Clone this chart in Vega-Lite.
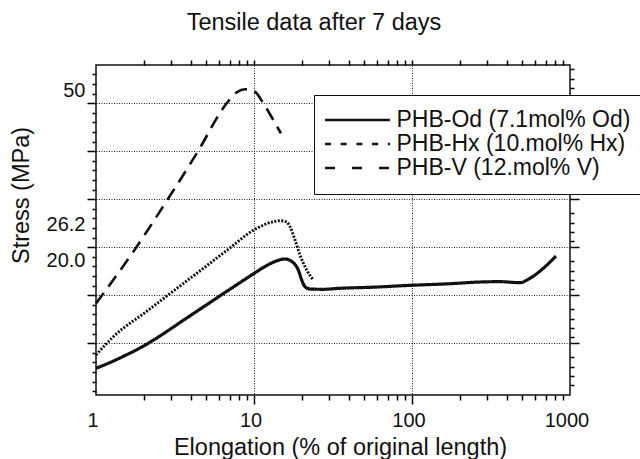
{
  "$schema": "https://vega.github.io/schema/vega-lite/v6.json",
  "width": 474,
  "height": 330,
  "autosize": {"type": "none"},
  "padding": {"left": 96, "top": 65, "right": 70, "bottom": 64},
  "background": "white",
  "title": {"text": "Tensile data after 7 days", "font": "Liberation Sans", "fontSize": 23.5, "fontWeight": "normal", "color": "#111", "anchor": "middle", "dx": -19, "offset": 25},
  "data": {"values": [
    {"series": "PHB-Od (7.1mol% Od)", "elongation": 1, "stress": 0.57},
    {"series": "PHB-Od (7.1mol% Od)", "elongation": 1.226, "stress": 1.59},
    {"series": "PHB-Od (7.1mol% Od)", "elongation": 1.504, "stress": 2.74},
    {"series": "PHB-Od (7.1mol% Od)", "elongation": 1.845, "stress": 3.98},
    {"series": "PHB-Od (7.1mol% Od)", "elongation": 2.262, "stress": 5.4},
    {"series": "PHB-Od (7.1mol% Od)", "elongation": 2.773, "stress": 6.99},
    {"series": "PHB-Od (7.1mol% Od)", "elongation": 3.401, "stress": 8.67},
    {"series": "PHB-Od (7.1mol% Od)", "elongation": 4.232, "stress": 10.44},
    {"series": "PHB-Od (7.1mol% Od)", "elongation": 5.267, "stress": 12.21},
    {"series": "PHB-Od (7.1mol% Od)", "elongation": 6.553, "stress": 13.98},
    {"series": "PHB-Od (7.1mol% Od)", "elongation": 8.155, "stress": 15.73},
    {"series": "PHB-Od (7.1mol% Od)", "elongation": 10.15, "stress": 17.47},
    {"series": "PHB-Od (7.1mol% Od)", "elongation": 11.74, "stress": 18.58},
    {"series": "PHB-Od (7.1mol% Od)", "elongation": 13.58, "stress": 19.47},
    {"series": "PHB-Od (7.1mol% Od)", "elongation": 15.71, "stress": 19.91},
    {"series": "PHB-Od (7.1mol% Od)", "elongation": 17.73, "stress": 19.26},
    {"series": "PHB-Od (7.1mol% Od)", "elongation": 19.07, "stress": 17.96},
    {"series": "PHB-Od (7.1mol% Od)", "elongation": 20.04, "stress": 16.2},
    {"series": "PHB-Od (7.1mol% Od)", "elongation": 21.03, "stress": 15.01},
    {"series": "PHB-Od (7.1mol% Od)", "elongation": 22.6, "stress": 14.6},
    {"series": "PHB-Od (7.1mol% Od)", "elongation": 27.45, "stress": 14.55},
    {"series": "PHB-Od (7.1mol% Od)", "elongation": 35, "stress": 14.73},
    {"series": "PHB-Od (7.1mol% Od)", "elongation": 54.2, "stress": 14.9},
    {"series": "PHB-Od (7.1mol% Od)", "elongation": 99.5, "stress": 15.26},
    {"series": "PHB-Od (7.1mol% Od)", "elongation": 174, "stress": 15.54},
    {"series": "PHB-Od (7.1mol% Od)", "elongation": 269, "stress": 15.84},
    {"series": "PHB-Od (7.1mol% Od)", "elongation": 360, "stress": 15.9},
    {"series": "PHB-Od (7.1mol% Od)", "elongation": 482.6, "stress": 15.72},
    {"series": "PHB-Od (7.1mol% Od)", "elongation": 558.5, "stress": 16.5},
    {"series": "PHB-Od (7.1mol% Od)", "elongation": 677.7, "stress": 18.27},
    {"series": "PHB-Od (7.1mol% Od)", "elongation": 815, "stress": 20.44},
    {"series": "PHB-Hx (10.mol% Hx)", "elongation": 1, "stress": 2.92},
    {"series": "PHB-Hx (10.mol% Hx)", "elongation": 1.287, "stress": 6.16},
    {"series": "PHB-Hx (10.mol% Hx)", "elongation": 2.094, "stress": 10.65},
    {"series": "PHB-Hx (10.mol% Hx)", "elongation": 3.014, "stress": 14.02},
    {"series": "PHB-Hx (10.mol% Hx)", "elongation": 4.34, "stress": 17.38},
    {"series": "PHB-Hx (10.mol% Hx)", "elongation": 6.72, "stress": 21.42},
    {"series": "PHB-Hx (10.mol% Hx)", "elongation": 10.15, "stress": 25.17},
    {"series": "PHB-Hx (10.mol% Hx)", "elongation": 13.25, "stress": 26.51},
    {"series": "PHB-Hx (10.mol% Hx)", "elongation": 14.61, "stress": 26.69},
    {"series": "PHB-Hx (10.mol% Hx)", "elongation": 16.1, "stress": 26.46},
    {"series": "PHB-Hx (10.mol% Hx)", "elongation": 16.9, "stress": 25.63},
    {"series": "PHB-Hx (10.mol% Hx)", "elongation": 18.18, "stress": 23.27},
    {"series": "PHB-Hx (10.mol% Hx)", "elongation": 19.55, "stress": 20.62},
    {"series": "PHB-Hx (10.mol% Hx)", "elongation": 21.56, "stress": 17.96},
    {"series": "PHB-Hx (10.mol% Hx)", "elongation": 23.73, "stress": 16.2},
    {"series": "PHB-V (12.mol% V)", "elongation": 1, "stress": 12.04},
    {"series": "PHB-V (12.mol% V)", "elongation": 1.722, "stress": 21.2},
    {"series": "PHB-V (12.mol% V)", "elongation": 2.87, "stress": 30.65},
    {"series": "PHB-V (12.mol% V)", "elongation": 4.34, "stress": 38.6},
    {"series": "PHB-V (12.mol% V)", "elongation": 6.72, "stress": 47.47},
    {"series": "PHB-V (12.mol% V)", "elongation": 7.78, "stress": 49.4},
    {"series": "PHB-V (12.mol% V)", "elongation": 8.77, "stress": 49.95},
    {"series": "PHB-V (12.mol% V)", "elongation": 9.9, "stress": 49.7},
    {"series": "PHB-V (12.mol% V)", "elongation": 10.4, "stress": 49.24},
    {"series": "PHB-V (12.mol% V)", "elongation": 11.45, "stress": 47.47},
    {"series": "PHB-V (12.mol% V)", "elongation": 14.8, "stress": 42.16}
  ]},
  "resolve": {"axis": {"x": "independent", "y": "independent"}, "scale": {"strokeDash": "independent"}, "legend": {"strokeDash": "independent"}},
  "layer": [
    {
      "mark": {"type": "point", "opacity": 0},
      "encoding": {
        "x": {"field": "elongation", "type": "quantitative",
          "axis": {"orient": "bottom", "values": [10, 100], "ticks": false, "labels": false, "grid": true, "title": null}},
        "y": {"field": "stress", "type": "quantitative",
          "axis": {"orient": "left", "values": [47.5, 39, 30.5, 22, 13.5, 5], "ticks": false, "labels": false, "grid": true, "title": null}}
      }
    },
    {
      "mark": {"type": "line", "color": "#111", "interpolate": "monotone", "strokeCap": "butt"},
      "encoding": {
        "x": {"field": "elongation", "type": "quantitative",
          "scale": {"type": "log", "domain": [1, 1000], "nice": false},
          "axis": {"orient": "bottom", "values": [1, 10, 100, 1000], "format": "d", "ticks": false, "grid": false, "labelPadding": 15, "labelFlush": false, "labelOverlap": false, "labelOffset": -3.5,
            "title": "Elongation (% of original length)", "titleX": 244, "titleY": 59, "titleBaseline": "alphabetic"}},
        "y": {"field": "stress", "type": "quantitative",
          "scale": {"domain": [-4.16, 54.25], "nice": false, "zero": false},
          "axis": {"orient": "left", "values": [50, 26.2, 20], "ticks": false, "grid": false, "labelPadding": 11, "labelOverlap": false, "labelOffset": 1.5,
            "labelExpr": "datum.value == 20 ? '20.0' : datum.value == 50 ? '50' : '26.2'",
            "title": "Stress (MPa)", "titleX": -75, "titleY": 130, "titleAngle": -90, "titleBaseline": "middle", "titleAlign": "center"}},
        "strokeDash": {"field": "series", "type": "nominal",
          "scale": {"domain": ["PHB-Od (7.1mol% Od)", "PHB-Hx (10.mol% Hx)", "PHB-V (12.mol% V)"], "range": [[1, 0], [2, 1.5], [13, 8]]},
          "legend": null},
        "strokeWidth": {"field": "series", "type": "nominal",
          "scale": {"domain": ["PHB-Od (7.1mol% Od)", "PHB-Hx (10.mol% Hx)", "PHB-V (12.mol% V)"], "range": [3.2, 2.6, 3.4]},
          "legend": null}
      }
    },
    {
      "transform": [{"filter": "datum.series == 'legend only'"}],
      "mark": {"type": "line", "color": "#111"},
      "encoding": {
        "x": {"field": "elongation", "type": "quantitative", "axis": null},
        "y": {"field": "stress", "type": "quantitative", "axis": null},
        "strokeDash": {"field": "series", "type": "nominal",
          "scale": {"domain": ["PHB-Od (7.1mol% Od)", "PHB-Hx (10.mol% Hx)", "PHB-V (12.mol% V)"], "range": [[1, 0], [6, 9.7], [10, 17]]},
          "legend": {"orient": "none", "legendX": 218, "legendY": 30, "title": null,
            "symbolType": "M-7,0H25.5", "symbolSize": 16, "symbolStrokeWidth": 2.5, "symbolStrokeColor": "#111",
            "labelFont": "Liberation Sans", "labelFontSize": 23, "labelColor": "#111", "labelOffset": 46, "labelLimit": 400,
            "padding": 13.5, "rowPadding": -4.7, "strokeColor": "#111", "fillColor": "white"}}
      }
    },
    {
      "mark": {"type": "point", "opacity": 0},
      "encoding": {
        "x": {"field": "elongation", "type": "quantitative",
          "axis": {"orient": "bottom", "values": [2,3,4,5,6,7,8,9,20,30,40,50,60,70,80,90,200,300,400,500,600,700,800,900],
            "ticks": true, "tickSize": 5, "tickColor": "black", "tickWidth": 1.5, "labels": false, "grid": false, "title": null}},
        "y": {"field": "stress", "type": "quantitative",
          "axis": {"orient": "left", "values": [52.6,50.9,49.2,45.8,44.1,42.4,40.7,37.3,35.6,33.9,32.2,28.8,27.1,25.4,23.7,20.3,18.6,16.9,15.2,11.8,10.1,8.4,6.7,3.3,1.6,-0.1,-1.8,-3.5],
            "ticks": true, "tickSize": 4, "tickColor": "black", "tickWidth": 1.5, "labels": false, "grid": false, "title": null}}
      }
    },
    {
      "mark": {"type": "point", "opacity": 0},
      "encoding": {
        "x": {"field": "elongation", "type": "quantitative",
          "axis": {"orient": "top", "values": [2,3,4,5,6,7,8,9,10,20,30,40,50,60,70,80,90,100,200,300,400,500,600,700,800,900],
            "ticks": true, "tickSize": 5, "tickColor": "black", "tickWidth": 1.5, "labels": false, "grid": false, "title": null}},
        "y": {"field": "stress", "type": "quantitative",
          "axis": {"orient": "right", "values": [48.56,50.21,51.85,53.52,40.06,41.71,43.35,45.02,31.56,33.21,34.85,36.52,23.06,24.71,26.35,28.02,14.56,16.21,17.85,19.52,6.06,7.71,9.35,11.02,-2.44,-0.79,0.85,2.52],
            "ticks": true, "tickSize": 4, "tickColor": "black", "tickWidth": 1.5, "labels": false, "grid": false, "title": null}}
      }
    },
    {
      "mark": {"type": "point", "opacity": 0},
      "encoding": {
        "x": {"field": "elongation", "type": "quantitative",
          "axis": {"orient": "bottom", "values": [10, 100],
            "ticks": true, "tickSize": 9, "tickColor": "black", "tickWidth": 1.5, "labels": false, "grid": false, "title": null}},
        "y": {"field": "stress", "type": "quantitative",
          "axis": {"orient": "left", "values": [47.5, 39, 30.5, 22, 13.5, 5],
            "ticks": true, "tickSize": 9, "tickColor": "black", "tickWidth": 1.5, "labels": false, "grid": false, "title": null}}
      }
    },
    {
      "mark": {"type": "point", "opacity": 0},
      "encoding": {
        "x": {"field": "elongation", "type": "quantitative", "axis": null},
        "y": {"field": "stress", "type": "quantitative",
          "axis": {"orient": "right", "values": [47.5, 39, 30.5, 22, 13.5, 5],
            "ticks": true, "tickSize": 9, "tickColor": "black", "tickWidth": 1.5, "labels": false, "grid": false, "title": null}}
      }
    }
  ],
  "config": {
    "font": "Liberation Sans",
    "view": {"stroke": "#111", "strokeWidth": 1.5},
    "axis": {"domain": false, "gridColor": "#222", "gridDash": [1, 1.5], "gridWidth": 1, "gridOpacity": 1,
      "labelColor": "#111", "titleColor": "#111", "labelFont": "Liberation Sans", "titleFont": "Liberation Sans", "labelFontSize": 20, "titleFontSize": 23.5, "titleFontWeight": "normal"}
  }
}
